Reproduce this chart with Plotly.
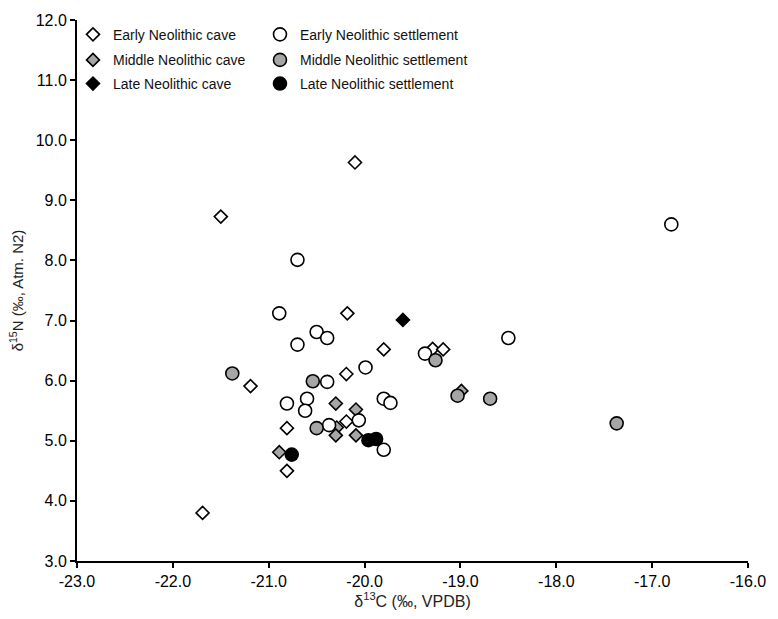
import plotly.graph_objects as go

# ---- data (d13C, d15N) ----
early_cave_x = [-21.69, -21.50, -20.10, -20.18, -19.80, -19.29, -19.18, -20.19, -21.19, -20.19, -20.81, -20.81]
early_cave_y = [3.80, 8.73, 9.63, 7.12, 6.52, 6.53, 6.52, 6.11, 5.91, 5.32, 5.21, 4.50]

middle_cave_x = [-20.30, -20.09, -20.29, -20.30, -20.09, -20.89, -18.99]
middle_cave_y = [5.62, 5.52, 5.22, 5.09, 5.09, 4.81, 5.83]

late_cave_x = [-19.60]
late_cave_y = [7.01]

early_settle_x = [-16.80, -20.70, -20.89, -20.50, -20.39, -20.70, -19.37, -18.50, -19.99, -20.39,
                  -20.81, -20.60, -20.62, -19.80, -19.73, -20.06, -20.37, -19.80]
early_settle_y = [8.60, 8.01, 7.12, 6.81, 6.71, 6.60, 6.45, 6.71, 6.22, 5.98,
                  5.62, 5.70, 5.50, 5.70, 5.63, 5.34, 5.26, 4.85]

middle_settle_x = [-21.38, -20.54, -19.26, -19.03, -18.69, -17.37, -20.50]
middle_settle_y = [6.12, 5.99, 6.34, 5.75, 5.70, 5.29, 5.21]

late_settle_x = [-20.76, -19.96, -19.88]
late_settle_y = [4.77, 5.01, 5.03]

names = ["Early Neolithic cave", "Middle Neolithic cave", "Late Neolithic cave",
         "Early Neolithic settlement", "Middle Neolithic settlement", "Late Neolithic settlement"]

x_tickvals = [-23, -22, -21, -20, -19, -18, -17, -16]
x_ticklabels = ["-23.0", "-22.0", "-21.0", "-20.0", "-19.0", "-18.0", "-17.0", "-16.0"]
y_tickvals = [3, 4, 5, 6, 7, 8, 9, 10, 11, 12]
y_ticklabels = ["3.0", "4.0", "5.0", "6.0", "7.0", "8.0", "9.0", "10.0", "11.0", "12.0"]

FONT = "Liberation Sans, Arial, sans-serif"
GRAY = "#a6a6a6"

series = [
    (early_cave_x, early_cave_y, "diamond", "white", 10),
    (middle_cave_x, middle_cave_y, "diamond", GRAY, 10),
    (late_cave_x, late_cave_y, "diamond", "black", 10),
    (early_settle_x, early_settle_y, "circle", "white", 13),
    (middle_settle_x, middle_settle_y, "circle", GRAY, 13),
    (late_settle_x, late_settle_y, "circle", "black", 13),
]

fig = go.Figure()
legend_names = ["legend"] + [f"legend{i}" for i in range(2, 7)]
for i, ((xs, ys, sym, fill, sz), nm) in enumerate(zip(series, names)):
    fig.add_trace(go.Scatter(
        x=xs, y=ys, mode="markers", name=nm,
        marker=dict(symbol=sym, color=fill, size=sz,
                    line=dict(color="black", width=1.6)),
        legend=legend_names[i],
    ))

# legend placement: column 1 (caves), column 2 (settlements)
col_x = [-0.006, 0.2727]
row_y = [0.9727, 0.9255, 0.8818]
legend_layouts = {}
for i, ln in enumerate(legend_names):
    col = 0 if i < 3 else 1
    row = i % 3
    legend_layouts[ln] = dict(
        x=col_x[col], y=row_y[row], xanchor="left", yanchor="middle",
        bgcolor="rgba(0,0,0,0)", borderwidth=0,
        font=dict(family=FONT, size=14, color="#111"),
    )

fig.update_layout(
    width=778, height=619,
    margin=dict(l=77, r=30, t=20, b=49),
    paper_bgcolor="white", plot_bgcolor="white",
    font=dict(family=FONT, size=16, color="black"),
    showlegend=True,
    **legend_layouts,
)

fig.update_xaxes(
    range=[-23, -16], tickvals=x_tickvals, ticktext=x_ticklabels,
    showgrid=False, zeroline=False,
    showline=True, linecolor="black", linewidth=2,
    ticks="outside", ticklen=5, tickwidth=1.5, tickcolor="black",
    tickfont=dict(family=FONT, size=16, color="black"),
    title=dict(text="δ<sup>13</sup>C (‰, VPDB)", font=dict(family=FONT, size=16, color="#222"), standoff=6),
)
fig.update_yaxes(
    range=[3, 12], tickvals=y_tickvals, ticktext=y_ticklabels,
    showgrid=False, zeroline=False,
    showline=True, linecolor="black", linewidth=2,
    ticks="outside", ticklen=5, tickwidth=1.5, tickcolor="black",
    tickfont=dict(family=FONT, size=16, color="black"),
    title=dict(text="δ<sup>15</sup>N (‰, Atm. N2)", font=dict(family=FONT, size=15, color="#222"), standoff=8),
)

fig.write_html("out.html")
